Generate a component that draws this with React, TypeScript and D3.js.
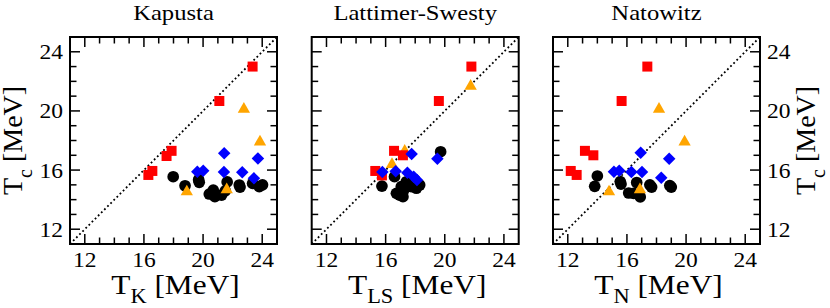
import React from 'react'
import * as d3 from 'd3'

// panel titles and x-axis subscripts
const titles = ['Kapusta', 'Lattimer-Swesty', 'Natowitz']
const xSubs = ['K', 'LS', 'N']
const labelTicks = [12, 16, 20, 24]
const minorTicks = d3.range(12, 25)

// [model T, Tc] pairs
const squaresK: [number, number][] = [[16.3, 15.67], [16.57, 15.94], [17.53, 16.95], [17.87, 17.3], [21.1, 20.67], [23.35, 23.0]]
const trianglesK: [number, number][] = [[22.76, 20.24], [23.85, 18.03], [18.9, 14.65], [21.6, 14.8]]
const diamondsK: [number, number][] = [[21.43, 17.13], [23.71, 16.79], [19.61, 15.89], [20.01, 15.96], [21.41, 15.87], [22.65, 15.85], [23.44, 15.44]]
const circlesK: [number, number][] = [[17.98, 15.55], [18.78, 14.94], [19.74, 15.17], [19.7, 15.35], [20.42, 14.38], [20.69, 14.65], [20.8, 14.2], [21.25, 14.31], [21.5, 14.6], [21.63, 15.2], [22.45, 14.99], [22.5, 14.85], [23.35, 15.1], [23.8, 14.88], [24.02, 15.0]]

const squaresLS: [number, number][] = [[15.3, 15.94], [15.75, 15.64], [16.57, 17.3], [17.17, 17.0], [19.6, 20.67], [21.8, 23.0]]
const trianglesLS: [number, number][] = [[21.75, 21.8], [16.43, 16.5], [17.29, 17.4]]
const diamondsLS: [number, number][] = [[17.76, 17.09], [19.5, 16.77], [15.78, 15.87], [16.68, 15.92], [17.47, 15.82], [17.9, 15.55], [18.12, 15.33]]
const circlesLS: [number, number][] = [[15.75, 14.92], [19.72, 17.24], [16.6, 15.55], [16.73, 14.43], [17.17, 14.2], [17.4, 15.21], [17.06, 14.88], [17.74, 14.88], [18.08, 14.77], [18.3, 14.99], [16.95, 14.3], [17.2, 14.6]]

const squaresN: [number, number][] = [[12.2, 15.94], [12.6, 15.67], [13.16, 17.3], [13.73, 17.0], [15.64, 20.67], [17.38, 23.0]]
const trianglesN: [number, number][] = [[18.17, 20.24], [19.9, 18.03], [14.79, 14.65], [16.88, 14.8]]
const diamondsN: [number, number][] = [[16.93, 17.17], [18.86, 16.77], [15.12, 15.89], [15.48, 15.96], [16.3, 15.87], [17.02, 15.87], [18.32, 15.48]]
const circlesN: [number, number][] = [[14.0, 15.6], [13.82, 14.9], [15.55, 15.22], [15.6, 15.05], [16.12, 14.45], [16.66, 15.16], [16.45, 14.43], [16.9, 14.18], [17.55, 15.0], [17.67, 14.85], [18.9, 14.95], [19.0, 14.85]]

const squares = [squaresK, squaresLS, squaresN]
const triangles = [trianglesK, trianglesLS, trianglesN]
const diamonds = [diamondsK, diamondsLS, diamondsN]
const circles = [circlesK, circlesLS, circlesN]

const W = 830
const H = 308
const panelLeft = [70, 311.7, 553]
const top = 37
const size = 207
const font = "'Liberation Serif', 'Times New Roman', Times, serif"
const SX = 1.12

const yScale = d3.scaleLinear().domain([11, 25]).range([top + size, top])

const triPath = (s: number) => {
  const h = s * Math.sqrt(3) / 2
  return `M0,${-h / 2}L${s / 2},${h / 2}L${-s / 2},${h / 2}Z`
}

const SText: React.FC<{ x: number; y: number; size: number; anchor?: string; children: React.ReactNode }> = ({ x, y, size, anchor = 'middle', children }) => (
  <text transform={`translate(${x},${y}) scale(${SX},1)`} textAnchor={anchor} fill="#000" style={{ fontFamily: font, fontSize: size }}>
    {children}
  </text>
)

const Panel: React.FC<{ i: number }> = ({ i }) => {
  const left = panelLeft[i]
  const x = d3.scaleLinear().domain([11, 25]).range([left, left + size])
  const cx = left + size / 2
  const circlePath = d3.symbol(d3.symbolCircle, Math.PI * 5.85 * 5.85)()!
  const squarePath = d3.symbol(d3.symbolSquare, 100)()!
  const diamondPath = d3.symbol(d3.symbolSquare, 78)()!
  const dotted = d3.line<number>().x(v => x(v)).y(v => yScale(v))([11, 25])!
  return (
    <g>
      <SText x={cx} y={20} size={22}>{titles[i]}</SText>
      <path d={dotted} stroke="#000" strokeWidth={1.8} strokeDasharray="1.8 2.6" fill="none" />
      {circles[i].map((d, k) => (
        <path key={'c' + k} d={circlePath} transform={`translate(${x(d[0])},${yScale(d[1])})`} fill="#000" />
      ))}
      {triangles[i].map((d, k) => (
        <path key={'t' + k} d={triPath(12.3)} transform={`translate(${x(d[0])},${yScale(d[1])})`} fill="#ffa500" />
      ))}
      {squares[i].map((d, k) => (
        <path key={'s' + k} d={squarePath} transform={`translate(${x(d[0])},${yScale(d[1])})`} fill="#ff0000" />
      ))}
      {diamonds[i].map((d, k) => (
        <path key={'d' + k} d={diamondPath} transform={`translate(${x(d[0])},${yScale(d[1])}) rotate(45)`} fill="#0000ff" />
      ))}
      {minorTicks.map(t => {
        const len = labelTicks.includes(t) ? 10 : 6.5
        return (
          <g key={'tk' + t} stroke="#000" strokeWidth={1.5}>
            <line x1={x(t)} x2={x(t)} y1={top + size} y2={top + size - len} />
            <line x1={x(t)} x2={x(t)} y1={top} y2={top + len} />
            <line x1={left} x2={left + len} y1={yScale(t)} y2={yScale(t)} />
            <line x1={left + size} x2={left + size - len} y1={yScale(t)} y2={yScale(t)} />
          </g>
        )
      })}
      <rect x={left} y={top} width={size} height={size} fill="none" stroke="#000" strokeWidth={2} />
      {labelTicks.map(t => (
        <SText key={'xl' + t} x={x(t)} y={267} size={21}>{t}</SText>
      ))}
      {i === 0 && labelTicks.map(t => (
        <SText key={'yl' + t} x={left - 7} y={yScale(t) + 7.5} size={21} anchor="end">{t}</SText>
      ))}
      {i === 2 && labelTicks.map(t => (
        <SText key={'yr' + t} x={left + size + 7} y={yScale(t) + 7.5} size={21} anchor="start">{t}</SText>
      ))}
      <SText x={cx + 2} y={294} size={28}>
        T<tspan style={{ fontSize: 20 }} dy={9}>{xSubs[i]}</tspan><tspan dy={-9}> [MeV]</tspan>
      </SText>
    </g>
  )
}

const YLabel: React.FC<{ x: number }> = ({ x }) => (
  <text transform={`translate(${x},${top + size / 2}) rotate(-90)`} textAnchor="middle" fill="#000" style={{ fontFamily: font, fontSize: 28 }}>
    T<tspan style={{ fontSize: 20 }} dy={10}>c</tspan><tspan dy={-10}> [MeV]</tspan>
  </text>
)

export default function App() {
  return (
    <svg width={W} height={H} style={{ position: 'absolute', left: 0, top: 0, background: '#fff' }}>
      {[0, 1, 2].map(i => <Panel key={i} i={i} />)}
      <YLabel x={22} />
      <YLabel x={815} />
    </svg>
  )
}
